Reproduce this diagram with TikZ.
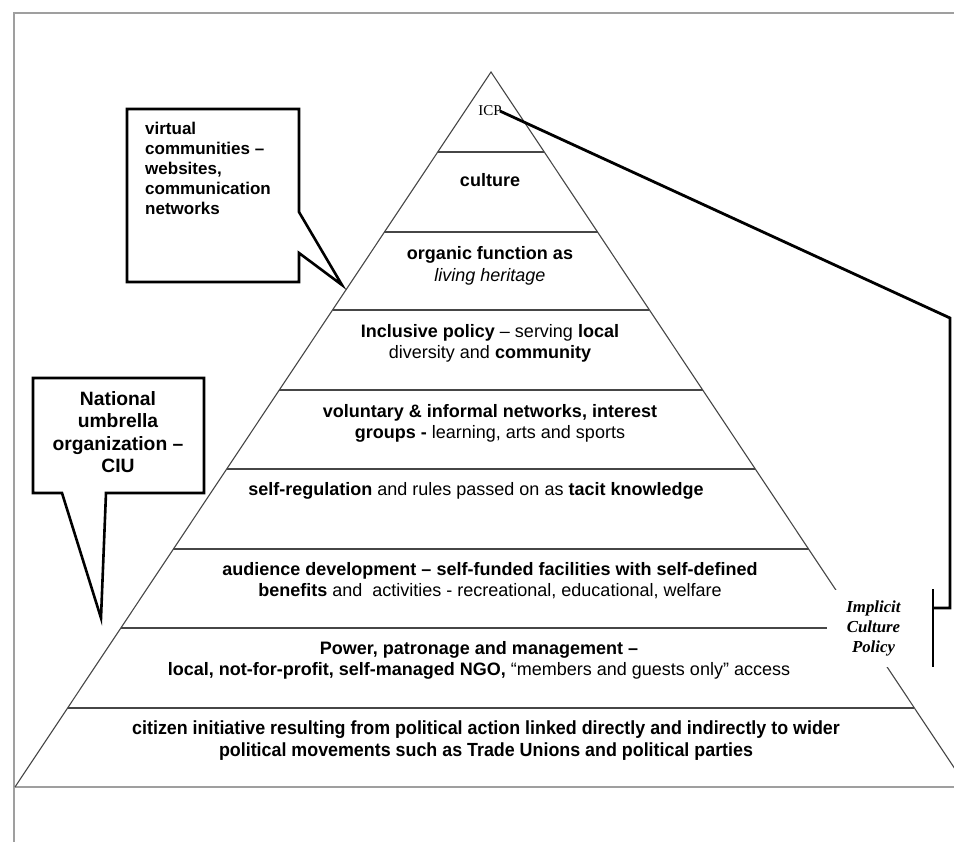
\documentclass[tikz,border=0pt]{standalone}
\usepackage{fontspec}
\setmainfont{Liberation Sans}
\newfontfamily\serifface{Liberation Serif}
\newfontfamily\narrowface[FakeStretch=0.94]{Liberation Sans}
\tikzset{
  frameline/.style={draw=gray!75, line width=1.6pt},
  tierline/.style={draw=gray!55!black, line width=1.1pt},
  calloutline/.style={draw=black, line width=2.6pt, fill=white, line join=miter},
  bracketline/.style={draw=black, line width=2.8pt, line join=miter},
  tiertext/.style={align=center, inner sep=0pt, font=\fontsize{18}{21.5}\selectfont},
  callouttext/.style={inner sep=0pt, font=\bfseries}
}
\begin{document}
\begin{tikzpicture}[x=1pt,y=-1pt]
\useasboundingbox (0,0) rectangle (954,842);
\clip (0,0) rectangle (954,842);
% frame
\draw[frameline] (954,13)--(14,13)--(14,842);
\draw[frameline] (14,787)--(954,787);
% pyramid
\draw[tierline] (15,787)--(491,72)--(967,787);
\foreach \y in {152,232,310,390,469,549,628,708}
  \draw[tierline] ({491-0.6657*(\y-72)},\y)--({491+0.6657*(\y-72)},\y);
% tier labels
\node[inner sep=0pt, font=\serifface\fontsize{15}{18}\selectfont] (icp) at (490,111) {ICP};
\node[tiertext] (culture) at (490,180) {\textbf{culture}};
\node[tiertext] (organic) at (490,266) {\textbf{organic function as}\\\textit{living heritage}};
\node[tiertext] (inclusive) at (490,343.5) {\textbf{Inclusive policy} – serving \textbf{local}\\diversity and \textbf{community}};
\node[tiertext] (voluntary) at (490,423.5) {\textbf{voluntary \& informal networks, interest}\\\textbf{groups -} learning, arts and sports};
\node[tiertext] (selfreg) at (476,491) {\textbf{self-regulation} and rules passed on as \textbf{tacit knowledge}};
\node[tiertext] (audience) at (490,580.5) {\textbf{audience development – self-funded facilities with self-defined}\\\textbf{benefits} and\ \ activities - recreational, educational, welfare};
\node[tiertext] (power) at (479,660.5) {\textbf{Power, patronage and management –}\\\textbf{local, not-for-profit, self-managed NGO,} “members and guests only” access};
\node[tiertext, font=\narrowface\bfseries\fontsize{19}{22}\selectfont] (citizen) at (486,741) {citizen initiative resulting from political action linked directly and indirectly to wider\\political movements such as Trade Unions and political parties};
% implicit culture policy
\node[fill=white, inner sep=0pt, minimum width=93pt, minimum height=77pt, align=center,
  font=\serifface\bfseries\itshape\fontsize{16.8}{20}\selectfont] (policy) at (873.5,628.5) {Implicit\\Culture\\Policy};
\draw[bracketline] ([xshift=-2pt]icp.east)--(950,318)--(950,608)--(933,608);
\draw[bracketline] (933,589)--(933,667);
% callouts
\draw[calloutline] (127,109)--(299,109)--(299,212)--(342,285)--(299,253)--(299,282)--(127,282)--cycle;
\node[callouttext, anchor=west, align=left, font=\bfseries\fontsize{17}{20}\selectfont] (virtual) at (145,168) {virtual\\communities –\\websites,\\communication\\networks};
\draw[calloutline] (33,378)--(204,378)--(204,493)--(106,493)--(101,618)--(62,493)--(33,493)--cycle;
\node[callouttext, align=center, font=\bfseries\fontsize{19.3}{22.5}\selectfont] (umbrella) at (118,432) {National\\umbrella\\organization –\\CIU};
\end{tikzpicture}
\end{document}
